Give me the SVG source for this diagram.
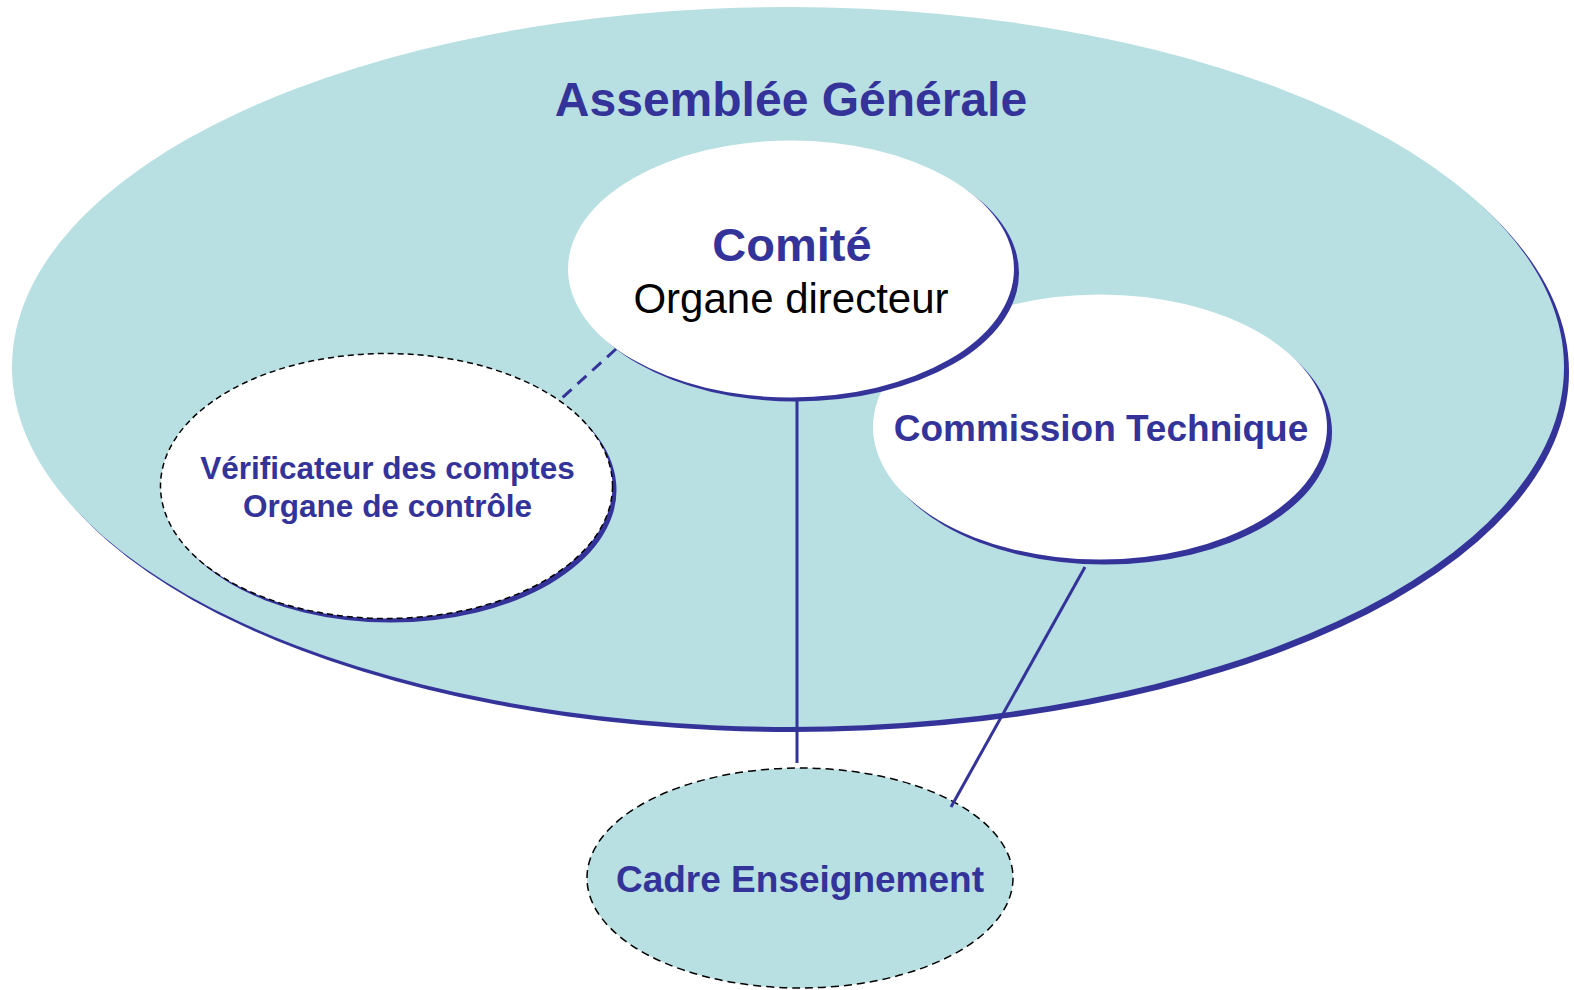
<svg xmlns="http://www.w3.org/2000/svg" width="1574" height="990" viewBox="0 0 1574 990">
<style>
.shadow{fill:#333399;stroke:none}
.white{fill:#ffffff;stroke:none}
.lbl{font-family:"Liberation Sans",Arial,sans-serif;font-weight:bold;fill:#333399;text-anchor:middle}
.conn{stroke:#333399;stroke-width:3;fill:none}
</style>
<rect width="1574" height="990" fill="#ffffff"/>
<g id="assemblee">
<ellipse class="shadow" cx="793" cy="372" rx="776" ry="360"/>
<ellipse cx="788" cy="367" rx="776" ry="360" fill="#B8DFE2"/>
<text class="lbl" x="791" y="116" font-size="48">Assemblée Générale</text>
</g>
<g id="commission">
<ellipse class="shadow" cx="1105" cy="432" rx="227" ry="132.5"/>
<ellipse class="white" cx="1100" cy="427" rx="227" ry="132.5"/>
<text class="lbl" x="1101" y="441" font-size="37">Commission Technique</text>
</g>
<g id="comite">
<ellipse class="shadow" cx="796" cy="273" rx="223" ry="128.5"/>
<ellipse class="white" cx="791" cy="269" rx="223" ry="128.5"/>
<text class="lbl" x="792" y="261" font-size="47">Comité</text>
<text x="791" y="313" font-size="42" font-family="Liberation Sans,Arial,sans-serif" fill="#000" text-anchor="middle">Organe directeur</text>
</g>
<g id="verificateur">
<ellipse class="shadow" cx="390.5" cy="490" rx="226" ry="132.5"/>
<ellipse cx="386.5" cy="486" rx="226" ry="132.5" fill="#ffffff" stroke="#000" stroke-width="1.5" stroke-dasharray="6,4"/>
<text class="lbl" x="387.5" y="479" font-size="31.5">Vérificateur des comptes</text>
<text class="lbl" x="387.5" y="517" font-size="31.5">Organe de contrôle</text>
</g>
<g id="cadre">
<ellipse cx="800" cy="878" rx="213" ry="110" fill="#B8DFE2" stroke="#000" stroke-width="1.5" stroke-dasharray="8,5"/>
<text class="lbl" x="800" y="892" font-size="37">Cadre Enseignement</text>
</g>
<g id="connectors">
<line class="conn" x1="797" y1="400" x2="797" y2="763"/>
<line class="conn" x1="1085" y1="567" x2="951" y2="807"/>
<line class="conn" x1="616" y1="349" x2="562" y2="398" stroke-dasharray="12,8"/>
</g>
</svg>
